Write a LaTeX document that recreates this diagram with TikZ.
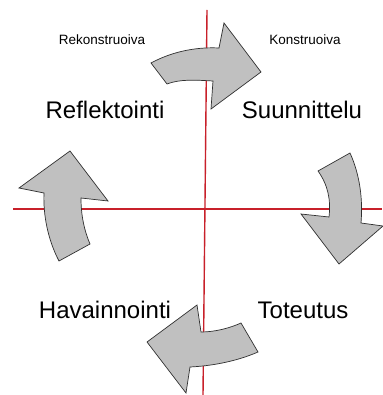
\documentclass[tikz,border=0pt]{standalone}
\usepackage{fontspec}
\setmainfont{Liberation Sans}
\usepackage{xcolor}
\usepackage{tikz}
\usetikzlibrary{positioning}
\definecolor{axisred}{HTML}{C8202A}
\definecolor{arrowgray}{HTML}{C0C0C0}
\definecolor{arrowedge}{HTML}{303030}

\begin{document}
\begin{tikzpicture}[x=1pt,y=-1pt,
  phase/.style={font=\fontsize{24}{26}\selectfont},
  mode/.style={font=\fontsize{13.5}{15}\selectfont},
  cyclearrow/.style={fill=arrowgray, draw=arrowedge, line width=0.7pt, line join=miter}]
\useasboundingbox (0,0) rectangle (382,395);
% axes
\coordinate (vtop) at (207,10);
\coordinate (vbot) at (203,395);
\coordinate (hleft) at (13,209);
\coordinate (hright) at (382,209);
\draw[axisred, line width=1.4pt] (vtop) -- (vbot);
\draw[axisred, line width=1.4pt] (hleft) -- (hright);
% curved arrows
\draw[cyclearrow] (167,84) -- (151,63) .. controls (175,50) and (200,47) .. (219,48)
  -- (224,23) -- (261,72) -- (211,109) -- (213,81)
  .. controls (195,80) and (180,79) .. cycle;
\draw[cyclearrow] (318,171) -- (350,153) .. controls (360,175) and (363,200) .. (361,223)
  -- (383,226) -- (339,264) -- (301,214) -- (329,217)
  .. controls (331,200) and (328,185) .. cycle;
\draw[cyclearrow] (241,323) -- (258,352) .. controls (235,362) and (210,366) .. (190,367)
  -- (186,393) -- (147,342) -- (197,305) -- (201,332)
  .. controls (215,332) and (230,328) .. cycle;
\draw[cyclearrow] (90,244) -- (59,261) .. controls (48,240) and (43,215) .. (44,193)
  -- (19,188) -- (70,151) -- (108,201) -- (81,198)
  .. controls (81,215) and (84,230) .. cycle;
% labels
\node[mode] (rekon) at (102,40) {Rekonstruoiva};
\node[mode] (kon) at (305,40) {Konstruoiva};
\node[phase] (refl) at (105,110) {Reflektointi};
\node[phase] (suun) at (302,110) {Suunnittelu};
\node[phase] (hav) at (105,310) {Havainnointi};
\node[phase] (tot) at (303,310) {Toteutus};
\end{tikzpicture}
\end{document}
